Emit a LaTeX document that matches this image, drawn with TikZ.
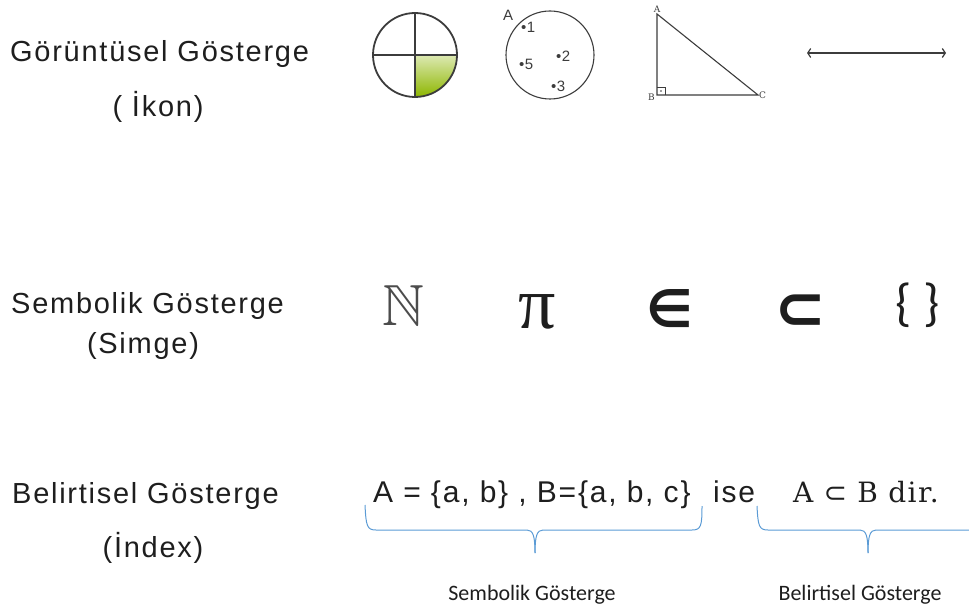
\documentclass[tikz,border=0pt]{standalone}
\usepackage{amssymb}
\usepackage{fontspec}
\setmainfont{Liberation Sans}
\newfontfamily\labelfont{Liberation Sans}[LetterSpace=6]
\newfontfamily\calfont{Carlito}
\newfontfamily\symfont{DejaVu Sans}
\newfontfamily\serfont{DejaVu Serif}[LetterSpace=5]
\newfontfamily\pifont{Liberation Serif}
\usetikzlibrary{arrows.meta,positioning,calc}
\definecolor{txtgray}{RGB}{30,30,30}
\definecolor{linegray}{RGB}{60,60,60}
\definecolor{bracecol}{RGB}{91,155,213}
\definecolor{leafgreen}{RGB}{141,182,0}

\tikzset{
  lbl/.style={font=\labelfont\fontsize{29}{29}\selectfont, text=txtgray, inner sep=0pt},
  sym/.style={text=txtgray, inner sep=0pt, anchor=base},
  eq/.style={font=\labelfont\fontsize{30}{30}\selectfont, text=txtgray, inner sep=0pt, anchor=base west},
  small/.style={font=\fontsize{15}{15}\selectfont, text=linegray, inner sep=0pt},
  vtx/.style={font=\serfont\fontsize{9}{9}\selectfont, text=linegray, inner sep=0pt},
  note/.style={font=\calfont\fontsize{22}{22}\selectfont, text=txtgray, inner sep=0pt, anchor=base},
  brace/.style={draw=bracecol, line width=1pt}
}

\begin{document}
\begin{tikzpicture}[x=1pt,y=-1pt]
  \useasboundingbox (0,0) rectangle (969,612);

  % Row titles
  \node[lbl, anchor=base west] (ikonT) at (10,62) {Görüntüsel Gösterge};
  \node[lbl, anchor=base] (ikonS) at (158,117) {( İkon)};
  \node[lbl, anchor=base west] (simT) at (11,313) {Sembolik Gösterge};
  \node[lbl, anchor=base] (simS) at (143,353) {(Simge)};
  \node[lbl, anchor=base west] (indT) at (12,503) {Belirtisel Gösterge};
  \node[lbl, anchor=base] (indS) at (153,557) {(İndex)};

  % Icon 1: circle in quarters
  \coordinate (c1) at (415,55);
  \shade[left color=leafgreen!30!white, right color=leafgreen, shading angle=0]
    (c1) -- ++(42,0) arc[start angle=0, end angle=90, radius=42] -- cycle;
  \draw[linegray, line width=1.8pt] (c1) circle[radius=42];
  \draw[linegray, line width=1.5pt] ($(c1)+(-42,0)$) -- ($(c1)+(42,0)$);
  \draw[linegray, line width=1.5pt] ($(c1)+(0,-42)$) -- ($(c1)+(0,42)$);

  % Icon 2: set A with elements
  \draw[linegray, line width=1.1pt] (550,55) ellipse[x radius=44, y radius=44];
  \node[small] (setA) at (508,15) {A};
  \foreach \dx/\dy/\v in {524/27/1, 559/56/2, 522/64/5, 554/86/3}
    \node[small, anchor=west] (el\v) at (\dx-3,\dy) {\textbullet\kern0.5pt\v};

  % Icon 3: right triangle
  \coordinate (tA) at (657,14);
  \coordinate (tB) at (657,95);
  \coordinate (tC) at (758,95);
  \draw[linegray, line width=1.1pt] (tA) -- (tB) -- (tC) -- cycle;
  \draw[linegray, line width=0.7pt] ($(tB)+(0,-8)$) -| ($(tB)+(8,0)$);
  \fill[linegray] ($(tB)+(4,-4)$) circle[radius=0.9];
  \node[vtx, above=1pt of tA] (lA) {A};
  \node[vtx, left=2pt of tB, yshift=-2pt] (lB) {B};
  \node[vtx, right=1pt of tC] (lC) {C};

  % Icon 4: line
  \coordinate (l1) at (807,53);
  \coordinate (l2) at (946,53);
  \draw[linegray, line width=1.2pt, {Straight Barb[length=3pt,width=9pt]}-{Straight Barb[length=3pt,width=9pt]}] (l1) -- (l2);

  % Symbols
  \node[sym, text=black!70, font=\fontsize{58}{58}\selectfont] (nat) at (403,325) {$\mathbb{N}$};
  \node[sym, font=\pifont\fontsize{74}{74}\selectfont] (piS) at (537,328) {π};
  \node[sym, font=\symfont\bfseries\fontsize{52}{52}\selectfont] (inS) at (670,327) {∈};
  \node[sym, font=\symfont\bfseries\fontsize{62}{62}\selectfont] (subS) at (800,330) {⊂};
  \node[sym, font=\calfont\fontsize{52}{52}\selectfont] (setS) at (918,320) {\{ \}};

  % Index example
  \node[eq] (sets) at (373,502) {A = \{a, b\} , B=\{a, b, c\}};
  \node[eq] (ise) at (713,502) {ise};
  \node[eq, font=\serfont\fontsize{28}{28}\selectfont] (incl) at (793,502)
    {A {\symfont ⊂} B dir.};

  % Braces
  \draw[brace] (365,505) .. controls (366,526) and (367,530) .. (376,530)
    -- (527,530) .. controls (533,530) and (535,536) .. (535,553);
  \draw[brace] (535,553) .. controls (535,536) and (537,530) .. (543,530)
    -- (692,530) .. controls (701,530) and (702,526) .. (702,506);
  \draw[brace] (757,506) .. controls (758,526) and (759,530) .. (768,530)
    -- (860,530) .. controls (866,530) and (868,536) .. (868,553);
  \draw[brace] (868,553) .. controls (868,536) and (870,530) .. (876,530)
    -- (969,530);

  \node[note] (bSem) at (532,600) {Sembolik Gösterge};
  \node[note] (bBel) at (860,600) {Belirtisel Gösterge};
\end{tikzpicture}
\end{document}
